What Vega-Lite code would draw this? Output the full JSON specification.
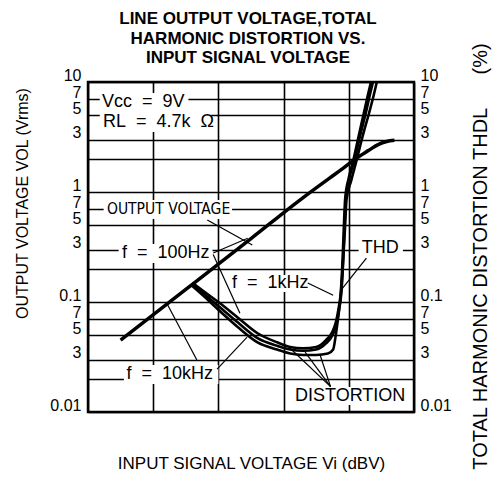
{
  "$schema": "https://vega.github.io/schema/vega-lite/v6.json",
  "width": 326,
  "height": 330,
  "autosize": {"type": "none"},
  "padding": {"left": 88, "top": 82, "right": 82, "bottom": 65},
  "background": "white",
  "title": {
    "text": ["LINE OUTPUT VOLTAGE,TOTAL", "HARMONIC DISTORTION VS.", "INPUT SIGNAL VOLTAGE"],
    "font": "Liberation Sans",
    "fontSize": 17,
    "fontWeight": "bold",
    "lineHeight": 19.5,
    "anchor": "middle",
    "color": "black",
    "dx": -3,
    "offset": -25
  },
  "config": {
    "view": {"stroke": "black", "strokeWidth": 2.5},
    "axis": {
      "labelFont": "Liberation Sans",
      "labelFontSize": 16,
      "labelColor": "black",
      "titleFont": "Liberation Sans",
      "titleFontSize": 16,
      "titleFontWeight": "normal",
      "titleColor": "black",
      "ticks": false,
      "domain": false
    }
  },
  "datasets": {
    "masks": [
      {"x": -73.2, "x2": -59.6, "y": 7.94, "y2": 5.45},
      {"x": -73.2, "x2": -56.1, "y": 5.45, "y2": 3.51},
      {"x": -72.6, "x2": -52.9, "y": 0.846, "y2": 0.568},
      {"x": -70.3, "x2": -55.9, "y": 0.337, "y2": 0.226},
      {"x": -53.4, "x2": -41.2, "y": 0.176, "y2": 0.123},
      {"x": -33.5, "x2": -26.7, "y": 0.366, "y2": 0.256},
      {"x": -69.5, "x2": -55.0, "y": 0.0267, "y2": 0.018},
      {"x": -43.8, "x2": -25.9, "y": 0.0169, "y2": 0.0116}
    ],
    "labels": [
      {"x": -72.85, "y": 6.58, "label": "Vcc\u00a0 =\u00a0 9V"},
      {"x": -72.7, "y": 4.33, "label": "RL\u00a0 =\u00a0 4.7k\u00a0 Ω"},
      {"x": -72.1, "y": 0.70, "label": "OUTPUT VOLTAGE"},
      {"x": -69.8, "y": 0.279, "label": "f\u00a0 =\u00a0 100Hz"},
      {"x": -52.9, "y": 0.149, "label": "f\u00a0 =\u00a0 1kHz"},
      {"x": -33.0, "y": 0.31, "label": "THD"},
      {"x": -69.1, "y": 0.0222, "label": "f\u00a0 =\u00a0 10kHz"},
      {"x": -43.25, "y": 0.01397, "label": "DISTORTION"}
    ],
    "leaders": [
      {"x": -56.7, "y": 0.556, "x2": -49.8, "y2": 0.33},
      {"x": -55.8, "y": 0.279, "x2": -50.5, "y2": 0.38},
      {"x": -55.8, "y": 0.27, "x2": -51.7, "y2": 0.079},
      {"x": -41.3, "y": 0.149, "x2": -37.4, "y2": 0.115},
      {"x": -32.3, "y": 0.25, "x2": -36.1, "y2": 0.13},
      {"x": -58.3, "y": 0.0297, "x2": -62.9, "y2": 0.097},
      {"x": -55.2, "y": 0.0245, "x2": -50.6, "y2": 0.048},
      {"x": -37.8, "y": 0.017, "x2": -44.0, "y2": 0.038},
      {"x": -37.8, "y": 0.017, "x2": -41.7, "y2": 0.035},
      {"x": -37.8, "y": 0.017, "x2": -39.4, "y2": 0.033}
    ],
    "output": [
      {"x": -70, "y": 0.045},
      {"x": -60, "y": 0.13},
      {"x": -50, "y": 0.377},
      {"x": -42, "y": 0.89},
      {"x": -38, "y": 1.33},
      {"x": -36, "y": 1.62},
      {"x": -34, "y": 2.0},
      {"x": -32, "y": 2.38},
      {"x": -30.5, "y": 2.7},
      {"x": -29.2, "y": 2.88},
      {"x": -28, "y": 2.95}
    ],
    "thd": [
      {"f": "100Hz", "x": -59, "y": 0.150},
      {"f": "100Hz", "x": -57, "y": 0.122},
      {"f": "100Hz", "x": -55, "y": 0.100},
      {"f": "100Hz", "x": -52, "y": 0.072},
      {"f": "100Hz", "x": -49, "y": 0.052},
      {"f": "100Hz", "x": -46, "y": 0.043},
      {"f": "100Hz", "x": -44, "y": 0.039},
      {"f": "100Hz", "x": -42, "y": 0.038},
      {"f": "100Hz", "x": -40, "y": 0.039},
      {"f": "100Hz", "x": -38.5, "y": 0.045},
      {"f": "100Hz", "x": -37.5, "y": 0.054},
      {"f": "100Hz", "x": -37, "y": 0.065},
      {"f": "100Hz", "x": -36.6, "y": 0.085},
      {"f": "100Hz", "x": -36.2, "y": 0.13},
      {"f": "100Hz", "x": -35.95, "y": 0.25},
      {"f": "100Hz", "x": -35.75, "y": 0.5},
      {"f": "100Hz", "x": -35.55, "y": 0.88},
      {"f": "100Hz", "x": -35.0, "y": 1.35},
      {"f": "100Hz", "x": -34.3, "y": 1.95},
      {"f": "100Hz", "x": -33.5, "y": 3.2},
      {"f": "100Hz", "x": -32.7, "y": 5.2},
      {"f": "100Hz", "x": -32.1, "y": 7.5},
      {"f": "100Hz", "x": -31.6, "y": 10},
      {"f": "1kHz", "x": -59, "y": 0.145},
      {"f": "1kHz", "x": -57, "y": 0.116},
      {"f": "1kHz", "x": -55, "y": 0.092},
      {"f": "1kHz", "x": -52, "y": 0.065},
      {"f": "1kHz", "x": -49, "y": 0.047},
      {"f": "1kHz", "x": -46, "y": 0.040},
      {"f": "1kHz", "x": -44, "y": 0.037},
      {"f": "1kHz", "x": -42, "y": 0.036},
      {"f": "1kHz", "x": -40, "y": 0.037},
      {"f": "1kHz", "x": -38.5, "y": 0.042},
      {"f": "1kHz", "x": -37.5, "y": 0.05},
      {"f": "1kHz", "x": -36.9, "y": 0.062},
      {"f": "1kHz", "x": -36.5, "y": 0.085},
      {"f": "1kHz", "x": -36.1, "y": 0.13},
      {"f": "1kHz", "x": -35.85, "y": 0.25},
      {"f": "1kHz", "x": -35.65, "y": 0.5},
      {"f": "1kHz", "x": -35.45, "y": 0.88},
      {"f": "1kHz", "x": -34.9, "y": 1.35},
      {"f": "1kHz", "x": -34.1, "y": 1.95},
      {"f": "1kHz", "x": -33.3, "y": 3.2},
      {"f": "1kHz", "x": -32.4, "y": 5.2},
      {"f": "1kHz", "x": -31.8, "y": 7.5},
      {"f": "1kHz", "x": -31.3, "y": 10},
      {"f": "10kHz", "x": -59, "y": 0.140},
      {"f": "10kHz", "x": -57, "y": 0.110},
      {"f": "10kHz", "x": -55, "y": 0.085},
      {"f": "10kHz", "x": -52, "y": 0.059},
      {"f": "10kHz", "x": -49, "y": 0.043},
      {"f": "10kHz", "x": -46, "y": 0.037},
      {"f": "10kHz", "x": -44, "y": 0.034},
      {"f": "10kHz", "x": -42, "y": 0.033},
      {"f": "10kHz", "x": -40, "y": 0.033},
      {"f": "10kHz", "x": -38.2, "y": 0.034},
      {"f": "10kHz", "x": -37.4, "y": 0.037},
      {"f": "10kHz", "x": -37.0, "y": 0.05},
      {"f": "10kHz", "x": -36.6, "y": 0.075},
      {"f": "10kHz", "x": -36.2, "y": 0.12},
      {"f": "10kHz", "x": -35.9, "y": 0.22},
      {"f": "10kHz", "x": -35.6, "y": 0.45},
      {"f": "10kHz", "x": -35.35, "y": 0.85},
      {"f": "10kHz", "x": -34.6, "y": 1.29},
      {"f": "10kHz", "x": -33.8, "y": 1.95},
      {"f": "10kHz", "x": -32.9, "y": 3.18},
      {"f": "10kHz", "x": -31.9, "y": 5.2},
      {"f": "10kHz", "x": -31.2, "y": 7.5},
      {"f": "10kHz", "x": -30.7, "y": 10}
    ]
  },
  "resolve": {"axis": {"y": "independent"}},
  "layer": [
    {
      "data": {"name": "masks"},
      "mark": {"type": "rect", "fill": "white", "stroke": null},
      "encoding": {
        "x": {
          "field": "x", "type": "quantitative",
          "scale": {"domain": [-75, -25], "nice": false, "zero": false},
          "axis": {
            "values": [-75, -70, -65, -60, -55, -50, -45, -40, -35, -30, -25],
            "labelExpr": "datum.value % 10 == 0 ? datum.label : ''",
            "grid": true, "gridColor": "black", "gridWidth": 1.6, "gridOpacity": 1,
            "labelPadding": 6,
            "title": "INPUT SIGNAL VOLTAGE Vi (dBV)",
            "titleFontSize": 17,
            "titlePadding": 21
          }
        },
        "x2": {"field": "x2"},
        "y": {
          "field": "y", "type": "quantitative",
          "scale": {"type": "log", "domain": [0.01, 10], "nice": false},
          "axis": {
            "orient": "left",
            "values": [0.01, 0.02, 0.03, 0.05, 0.07, 0.1, 0.2, 0.3, 0.5, 0.7, 1, 2, 3, 5, 7, 10],
            "format": "~g",
            "labelExpr": "indexof(['0.01','0.1','1','10'], datum.label) >= 0 ? datum.label : (slice(datum.label, -1) == '2' ? '' : slice(datum.label, -1))",
            "grid": true, "gridColor": "black", "gridWidth": 1.6, "gridOpacity": 1,
            "labelPadding": 7,
            "labelBaseline": "alphabetic",
            "labelOffset": -2,
            "title": "OUTPUT VOLTAGE VOL (Vrms)",
            "titleAngle": 270,
            "titleX": -66,
            "titleY": 121,
            "titleAlign": "center",
            "titleBaseline": "middle"
          }
        },
        "y2": {"field": "y2"}
      }
    },
    {
      "data": {"name": "labels"},
      "transform": [{"filter": "datum.label != 'OUTPUT VOLTAGE'"}],
      "mark": {"type": "text", "align": "left", "baseline": "middle", "font": "Liberation Sans", "fontSize": 18, "color": "black"},
      "encoding": {
        "x": {"field": "x", "type": "quantitative"},
        "y": {
          "field": "y", "type": "quantitative",
          "axis": {
            "orient": "right",
            "values": [0.01, 0.03, 0.05, 0.07, 0.1, 0.3, 0.5, 0.7, 1, 3, 5, 7, 10],
            "format": "~g",
            "labelExpr": "indexof(['0.01','0.1','1','10'], datum.label) >= 0 ? datum.label : slice(datum.label, -1)",
            "grid": false,
            "labelPadding": 6,
            "labelBaseline": "alphabetic",
            "labelOffset": -2,
            "title": "TOTAL HARMONIC DISTORTION THDL\u00a0\u00a0\u00a0\u00a0\u00a0\u00a0(%)",
            "titleFontSize": 20,
            "titleAngle": 270,
            "titleX": 66,
            "titleY": 174,
            "titleAlign": "center",
            "titleBaseline": "middle"
          }
        },
        "text": {"field": "label"}
      }
    },
    {
      "data": {"name": "labels"},
      "transform": [{"filter": "datum.label == 'OUTPUT VOLTAGE'"}],
      "mark": {"type": "text", "align": "left", "baseline": "middle", "font": "DejaVu Sans Condensed, Liberation Sans", "fontSize": 15.5, "color": "black"},
      "encoding": {
        "x": {"field": "x", "type": "quantitative"},
        "y": {"field": "y", "type": "quantitative", "axis": null},
        "text": {"field": "label"}
      }
    },
    {
      "data": {"name": "leaders"},
      "mark": {"type": "rule", "color": "black", "strokeWidth": 1.2},
      "encoding": {
        "x": {"field": "x", "type": "quantitative"},
        "x2": {"field": "x2"},
        "y": {"field": "y", "type": "quantitative", "axis": null},
        "y2": {"field": "y2"}
      }
    },
    {
      "data": {"name": "output"},
      "mark": {"type": "line", "color": "black", "strokeWidth": 3.5, "interpolate": "monotone", "strokeCap": "butt"},
      "encoding": {
        "x": {"field": "x", "type": "quantitative"},
        "y": {"field": "y", "type": "quantitative", "axis": null}
      }
    },
    {
      "data": {"name": "thd"},
      "mark": {"type": "line", "color": "black", "strokeWidth": 2.6, "interpolate": "monotone", "strokeCap": "butt", "clip": true},
      "encoding": {
        "x": {"field": "x", "type": "quantitative"},
        "y": {"field": "y", "type": "quantitative", "axis": null},
        "detail": {"field": "f", "type": "nominal"}
      }
    }
  ]
}
